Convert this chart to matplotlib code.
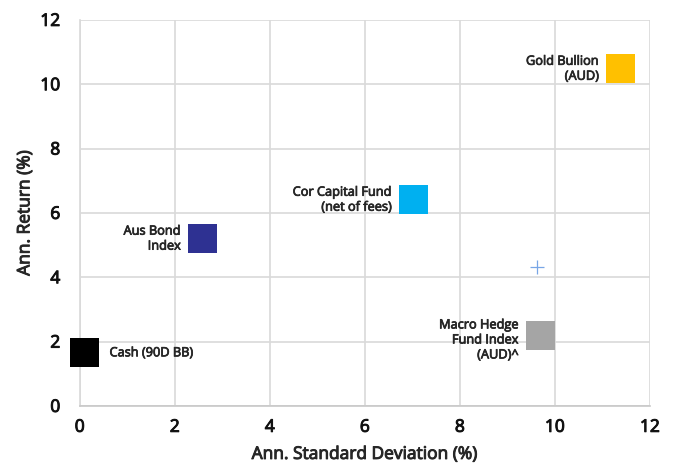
import matplotlib.pyplot as plt
import matplotlib.patheffects as pe

plt.rcParams['font.family'] = ['Open Sans', 'DejaVu Sans']

# Data
names = ['Cash (90D BB)', 'Aus Bond\nIndex', 'Cor Capital Fund\n(net of fees)',
         'Gold Bullion\n(AUD)', 'Macro Hedge\nFund Index\n(AUD)^']
std_dev = [0.1, 2.58, 7.02, 11.38, 9.69]
ann_ret = [1.65, 5.2, 6.41, 10.48, 2.18]
colors = ['#000000', '#2E3192', '#00B0F0', '#FFC000', '#A5A5A5']
label_side = ['right', 'left', 'left', 'left', 'left']

extra_x = [9.62]
extra_y = [4.33]

txt_col = '#262626'
# open sans has no semibold here, so thicken the regular face a bit
semi = [pe.withStroke(linewidth=0.55, foreground=txt_col)]

fig = plt.figure(figsize=(6.76, 4.64), dpi=100)
ax = fig.add_axes([0.118, 0.123, 0.8435, 0.832])

ax.scatter(std_dev, ann_ret, s=440, marker='s', c=colors, zorder=3, linewidths=0,
           clip_on=False)
ax.scatter(extra_x, extra_y, s=110, marker='+', c='#78A6E6', linewidths=0.9, zorder=3)

for n, x, y, side in zip(names, std_dev, ann_ret, label_side):
    if side == 'right':
        ax.annotate(n, (x, y), xytext=(18, 0), textcoords='offset points',
                    ha='left', va='center', fontsize=9.2, color=txt_col,
                    path_effects=semi)
    else:
        dy = -3 if n.count('\n') == 2 else 0
        ax.annotate(n, (x, y), xytext=(-15.5, dy), textcoords='offset points',
                    ha='right', va='center', fontsize=9.2, color=txt_col,
                    multialignment='right', linespacing=1.2, path_effects=semi)

ax.set_xlim(0, 12)
ax.set_ylim(0, 12)
ax.set_xticks(range(0, 13, 2))
ax.set_yticks(range(0, 13, 2))
ax.grid(True, color='#D9D9D9', linewidth=1.2)
ax.set_axisbelow(True)
for s in ['top', 'right']:
    ax.spines[s].set_visible(False)
ax.spines['left'].set_color('#D9D9D9')
ax.spines['bottom'].set_color('#C8C8C8')
ax.spines['left'].set_linewidth(1.2)
ax.spines['bottom'].set_linewidth(1.2)
ax.tick_params(length=0, labelsize=12.5, colors='#111111')
ax.tick_params(axis='y', pad=14)
ax.tick_params(axis='x', pad=10)
for lab in ax.get_xticklabels() + ax.get_yticklabels():
    lab.set_path_effects([pe.withStroke(linewidth=0.7, foreground='#111111')])

ax.set_xlabel('Ann. Standard Deviation (%)', fontsize=12.5, color=txt_col,
              labelpad=8, path_effects=[pe.withStroke(linewidth=0.7, foreground=txt_col)])
ax.set_ylabel('Ann. Return (%)', fontsize=12.5, color=txt_col,
              labelpad=5, path_effects=[pe.withStroke(linewidth=0.7, foreground=txt_col)])

fig.savefig('out.png', dpi=100)
